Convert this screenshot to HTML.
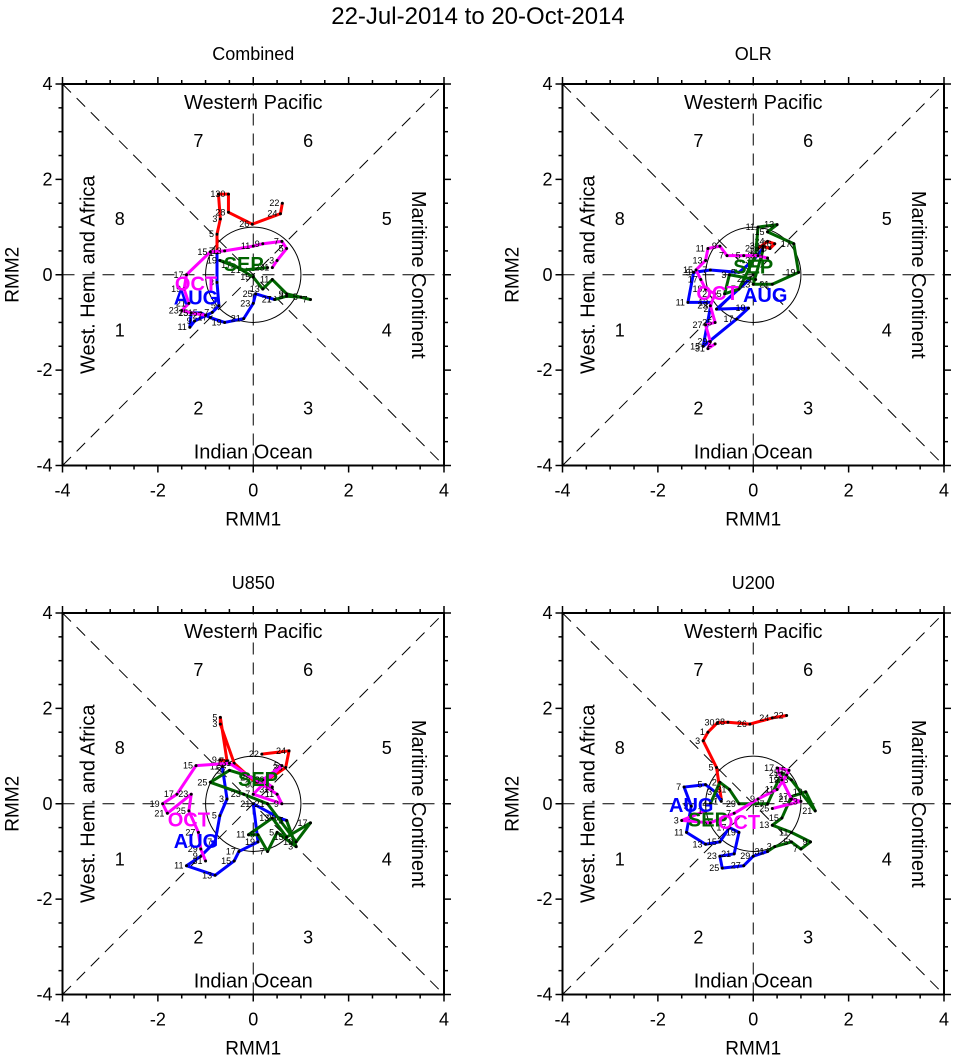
<!DOCTYPE html>
<html><head><meta charset="utf-8"><style>
body{margin:0;background:#fff;}
svg{display:block;font-family:"Liberation Sans",sans-serif;}
</style></head><body>
<svg id="chart" width="956" height="1056" viewBox="0 0 956 1056" xmlns="http://www.w3.org/2000/svg">
<text x="478" y="24" font-size="24" text-anchor="middle">22-Jul-2014 to 20-Oct-2014</text>
</svg>
<script>
const panelTitles = ["Combined","OLR","U850","U200"];
const tickLabels = ["-4","-2","0","2","4"];
const tickValues = [-4,-2,0,2,4];
const months = ["JUL","AUG","SEP","OCT"];
const monthColors = ["#ff0000","#0000ff","#006400","#ff00ff"];
// Each series: [RMM1, RMM2] points
const p1Jul = [[0.61,1.50],[0.57,1.28],[-0.02,1.06],[-0.52,1.31],[-0.52,1.69],[-0.73,1.69],[-0.69,1.17],[-0.76,0.85],[-0.76,0.50]];
const p1Aug = [[-0.76,0.46],[-0.76,-0.16],[-0.72,-0.65],[-0.86,-0.79],[-1.23,-0.97],[-1.33,-1.10],[-1.30,-0.80],[-1.10,-0.80],[-0.90,-0.90],[-0.60,-1.00],[-0.20,-0.92],[0.00,-0.60],[0.05,-0.40],[0.45,-0.52]];
const p1Sep = [[0.45,-0.52],[0.70,-0.45],[1.00,-0.47],[1.20,-0.52],[0.70,-0.40],[0.40,-0.10],[0.20,-0.30],[0.00,-0.05],[-0.40,0.20],[-0.70,0.30],[-0.20,0.10],[0.30,0.15]];
const p1Oct = [[0.40,0.15],[0.50,0.30],[0.70,0.55],[0.60,0.70],[0.20,0.65],[0.00,0.60],[-0.60,0.50],[-0.90,0.48],[-1.40,0.00],[-1.45,-0.30],[-1.35,-0.60],[-1.50,-0.75],[-1.30,-0.80],[-1.00,-0.85]];
const p2Jul = [[0.10,0.55],[0.30,0.70],[0.45,0.65],[0.35,0.55],[0.20,0.60]];
const p2Aug = [[0.20,0.55],[0.00,0.30],[-0.30,0.05],[-0.90,0.10],[-1.25,0.05],[-1.37,-0.58],[-0.88,-0.58],[-1.05,-1.50],[-0.35,-0.93],[-0.10,-0.70],[-0.77,-0.72],[-0.07,-0.09]];
const p2Sep = [[0.05,-0.10],[-0.50,0.00],[-0.60,-0.40],[-0.30,-0.30],[0.05,0.40],[0.10,1.00],[0.50,1.05],[0.30,0.90],[0.85,0.65],[0.95,0.05],[0.40,-0.20],[0.00,-0.20],[0.20,0.50]];
const p2Oct = [[0.30,0.35],[0.10,0.40],[-0.20,0.40],[-0.55,0.40],[-0.70,0.60],[-0.95,0.55],[-1.00,0.30],[-1.20,0.10],[-1.10,-0.10],[-1.00,-0.30],[-0.80,-0.40],[-0.90,-0.65],[-0.80,-1.00],[-1.00,-1.05],[-0.90,-1.40],[-0.95,-1.55],[-0.80,-1.45]];
const p3Jul = [[0.18,1.04],[0.75,1.11],[0.68,0.76],[0.30,0.50],[0.10,0.40],[-0.40,0.85],[-0.69,1.67],[-0.69,1.81],[-0.55,0.90],[-0.70,0.92],[-0.65,0.78]];
const p3Aug = [[-0.65,0.78],[-0.55,0.10],[-0.70,-0.25],[-0.80,-0.80],[-1.10,-1.10],[-1.40,-1.30],[-0.80,-1.50],[-0.40,-1.20],[-0.30,-1.00],[0.10,-0.80],[0.00,0.00],[0.55,-0.30],[0.70,-0.35]];
const p3Sep = [[0.70,-0.35],[0.90,-0.90],[0.50,-0.60],[0.30,-1.00],[0.10,-0.65],[-0.10,-0.65],[0.40,-0.30],[0.70,-0.70],[1.20,-0.40],[0.90,-0.80],[0.30,0.00],[-0.20,0.20],[-0.90,0.45],[-0.50,0.70],[0.00,0.55],[0.40,0.30],[0.20,0.50]];
const p3Oct = [[0.40,0.35],[0.20,0.50],[0.60,0.80],[0.00,0.20],[0.60,0.00],[0.50,0.20],[-0.50,0.85],[-1.20,0.80],[-1.60,0.20],[-1.90,0.00],[-1.80,-0.20],[-1.30,0.20],[-1.35,-0.15],[-1.15,-0.60],[-1.10,-0.95],[-1.00,-1.20]];
const p4Jul = [[0.70,1.85],[0.40,1.80],[-0.07,1.67],[-0.53,1.71],[-0.75,1.70],[-0.95,1.50],[-1.05,1.32],[-0.77,0.76],[-0.67,0.09]];
const p4Aug = [[-0.67,0.05],[-0.80,0.25],[-1.00,0.40],[-1.45,0.35],[-1.30,-0.05],[-1.40,-0.60],[-1.00,-0.85],[-0.70,-0.80],[-0.50,-0.50],[-0.30,-0.60],[-0.40,-1.05],[-0.70,-1.10],[-0.65,-1.35],[-0.20,-1.30],[0.00,-1.10],[0.30,-1.00]];
const p4Sep = [[0.30,-1.00],[0.45,-0.90],[0.80,-0.80],[1.00,-0.95],[1.20,-0.80],[0.80,-0.60],[0.40,-0.45],[0.60,-0.30],[0.80,0.15],[1.10,0.25],[1.30,-0.15],[0.80,0.50],[0.60,0.65],[0.30,0.00],[-0.30,0.00],[-0.50,0.30],[-0.70,0.45],[-0.90,0.00]];
const p4Oct = [[-1.00,-0.15],[-1.50,-0.35],[-0.90,-0.40],[-0.40,-0.20],[0.10,0.10],[0.50,0.30],[0.70,0.60],[0.75,0.70],[0.50,0.75],[0.60,0.50],[0.80,0.10],[1.00,0.05],[0.40,-0.10]];
const startDays = [22,1,1,1];
const panelSeries = [[p1Jul,p1Aug,p1Sep,p1Oct],[p2Jul,p2Aug,p2Sep,p2Oct],[p3Jul,p3Aug,p3Sep,p3Oct],[p4Jul,p4Aug,p4Sep,p4Oct]];
// month label positions [AUG, SEP, OCT] in RMM units
const monthLabelPos = [
 [[-1.2,-0.5],[-0.2,0.2],[-1.2,-0.2]],
 [[0.25,-0.45],[0.0,0.15],[-0.75,-0.4]],
 [[-1.2,-0.8],[0.1,0.5],[-1.35,-0.35]],
 [[-1.3,-0.05],[-0.95,-0.35],[-0.3,-0.4]]
];
const NS="http://www.w3.org/2000/svg";
const svg=document.getElementById('chart');
function mk(tag,attrs,parent){const e=document.createElementNS(NS,tag);for(const k in attrs)e.setAttribute(k,attrs[k]);(parent||svg).appendChild(e);return e;}
const origins=[[62.5,84],[562.5,84],[62.5,613],[562.5,613]];
const size=381.5;
panelSeries.forEach((series,pi)=>{
  const [ox,oy]=origins[pi];
  const sx=v=>ox+(v+4)/8*size;
  const sy=v=>oy+(4-v)/8*size;
  const g=mk('g',{});
  
  
  const t=mk('text',{x:sx(0),y:oy-24,'font-size':18,'text-anchor':'middle'},g);t.textContent=panelTitles[pi];
  
  
  [[-4,-4,4,4],[-4,4,4,-4],[-4,0,4,0],[0,-4,0,4]].forEach(l=>{
    const ln=mk('line',{x1:sx(l[0]),y1:sy(l[1]),x2:sx(l[2]),y2:sy(l[3]),stroke:'#000','stroke-width':1,'stroke-dasharray':'12,8'},g);
    
    
  });
  const c=mk('circle',{cx:sx(0),cy:sy(0),r:size/8,fill:'none',stroke:'#000','stroke-width':1},g);
  
  
  const rl=[["Western Pacific",sx(0),sy(3.6),0],["Indian Ocean",sx(0),sy(-3.6)+6,0],["West. Hem. and Africa",sx(-3.45),sy(0),-90],["Maritime Continent",sx(3.45),sy(0),90]];
  rl.forEach(r=>{const e=mk('text',{x:r[1],y:r[2],'font-size':20,'text-anchor':'middle','dominant-baseline':'central',transform:`rotate(${r[3]} ${r[1]} ${r[2]})`},g);e.textContent=r[0];
    
    });
  const ph=[["7",-1.15,2.8],["6",1.15,2.8],["8",-2.8,1.17],["5",2.8,1.17],["1",-2.8,-1.17],["4",2.8,-1.17],["2",-1.15,-2.8],["3",1.15,-2.8]];
  ph.forEach(p=>{const e=mk('text',{x:sx(p[1]),y:sy(p[2]),'font-size':18,'text-anchor':'middle','dominant-baseline':'central'},g);e.textContent=p[0];
    
    });
  series.forEach((pts,si)=>{
    const pl=mk('polyline',{points:pts.map(p=>sx(p[0])+','+sy(p[1])).join(' '),fill:'none',stroke:monthColors[si],'stroke-width':3,'stroke-linejoin':'round'},g);
    
    
    pts.forEach((p,i)=>{
      const d=mk('circle',{cx:sx(p[0]),cy:sy(p[1]),r:1.5,fill:'#000'},g);
      
      
      const lt=mk('text',{x:sx(p[0])-3,y:sy(p[1])+3,'font-size':9,'text-anchor':'end'},g);
      lt.textContent=String((startDays[si]+i*2-1)%31+1);
      
      
    });
  });
  monthLabelPos[pi].forEach((mp,mi)=>{
    const e=mk('text',{x:sx(mp[0]),y:sy(mp[1]),'font-size':20,'font-weight':'bold','text-anchor':'middle','dominant-baseline':'central',fill:monthColors[mi+1]},g);
    e.textContent=months[mi+1];
    
    
  });
  const fr=mk('rect',{x:ox,y:oy,width:size,height:size,fill:'none',stroke:'#000','stroke-width':2},g);
  
  
  for(let v=-4;v<=4.001;v+=0.5){
    const major=Math.abs(v%2)<0.01, L=major?7:4;
    mk('line',{x1:sx(v),y1:oy+size,x2:sx(v),y2:oy+size+L,stroke:'#000','stroke-width':1.5},g);
    mk('line',{x1:sx(v),y1:oy,x2:sx(v),y2:oy-L,stroke:'#000','stroke-width':1.5},g);
    mk('line',{x1:ox,y1:sy(v),x2:ox-L,y2:sy(v),stroke:'#000','stroke-width':1.5},g);
    mk('line',{x1:ox+size,y1:sy(v),x2:ox+size+L,y2:sy(v),stroke:'#000','stroke-width':1.5},g);
  }
  tickValues.forEach((v,i)=>{
    const xt=mk('text',{x:sx(v),y:oy+size+31,'font-size':18,'text-anchor':'middle'},g);xt.textContent=tickLabels[i];
    
    
    const yt=mk('text',{x:ox-10,y:sy(v)+6,'font-size':18,'text-anchor':'end'},g);yt.textContent=tickLabels[i];
    
    
  });
  const xl=mk('text',{x:sx(0),y:oy+size+60,'font-size':19,'text-anchor':'middle'},g);xl.textContent='RMM1';
  
  
  const yx=ox-44, yy=sy(0);
  const yl=mk('text',{x:yx,y:yy,'font-size':19,'text-anchor':'middle',transform:`rotate(-90 ${yx} ${yy})`},g);yl.textContent='RMM2';
  
  
});
</script>
</body></html>
